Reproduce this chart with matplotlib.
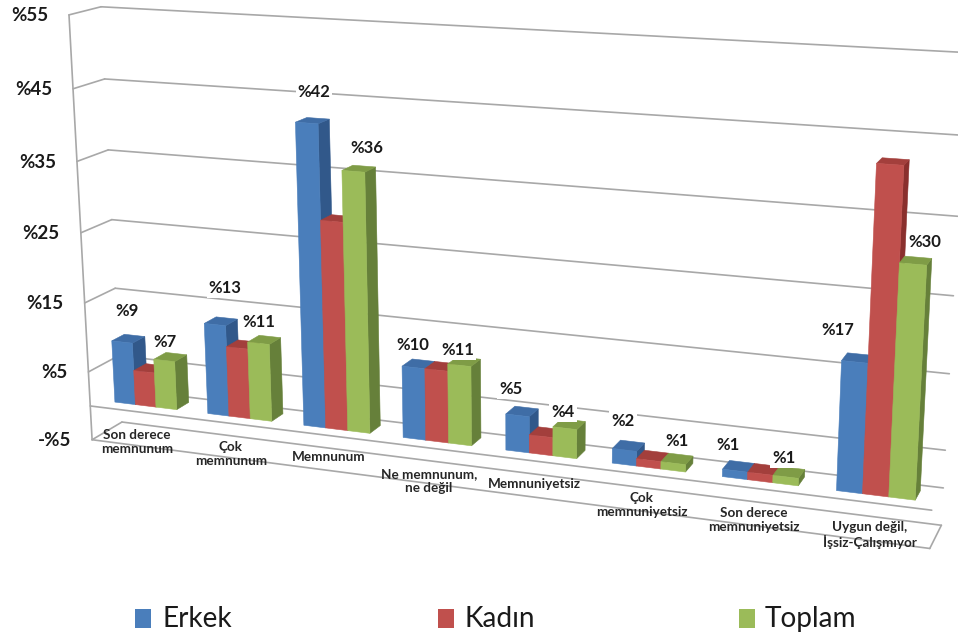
import numpy as np
import matplotlib
matplotlib.use("Agg")
import matplotlib.pyplot as plt
from matplotlib.patches import Polygon, Rectangle

# =============================================================================
# DATA
# =============================================================================
kategoriler = ["Son derece\nmemnunum", "Çok\nmemnunum", "Memnunum", "Ne memnunum,\nne değil",
               "Memnuniyetsiz", "Çok\nmemnuniyetsiz", "Son derece\nmemnuniyetsiz",
               "Uygun değil,\nİşsiz-Çalışmıyor"]
erkek = [9, 13, 42, 10, 5, 2, 1, 17]
kadin = [5, 10, 29, 10, 2.5, 1, 1, 42]   # no labels in the picture
toplam = [7, 11, 36, 11, 4, 1, 1, 30]
eksen_degerleri = [-5, 5, 15, 25, 35, 45, 55]
eksen_etiketleri = ["-%5", "%5", "%15", "%25", "%35", "%45", "%55"]

# label anchors, pixels of the 958x637 picture
erkek_etiket_xy = [(127, 311), (225, 288), (314, 92), (413, 345), (511, 389), (623, 421), (728, 445), (838, 330)]
toplam_etiket_xy = [(165, 342), (259, 322), (367, 148), (458, 350), (563, 412), (677, 441), (784, 458), (925, 242)]
kategori_xy = [(137, 442), (231, 454), (329, 457), (429, 481), (534, 484), (642, 505), (754, 520), (870, 535)]

# =============================================================================
# PERSPECTIVE (category position u, value v, depth d) -> picture pixels
# =============================================================================
referencia_3d = [(0, 55, 0), (0, -5, 0), (8, -5, 0), (0, 55, 1), (0, -5, 1), (8, -5, 1), (8, 55, 1),
                 (0.16, 0, 0.33), (1.16, 0, 0.33), (2.16, 0, 0.33), (3.16, 0, 0.33),
                 (4.16, 0, 0.33), (5.16, 0, 0.33), (6.16, 0, 0.33), (7.16, 0, 0.33)]
referencia_px = [(69, 15), (92, 439), (929, 548), (101, 7), (122, 422), (941, 525), (966, 52),
                 (115, 402), (208, 413), (303, 426), (403, 438),
                 (506, 450), (613, 463), (723, 476), (837, 492)]

filas, lado = [], []
for (u, v, d), (x, y) in zip(referencia_3d, referencia_px):
    filas.append([u, v, d, 1, 0, 0, 0, 0, -x * u, -x * v, -x * d])
    filas.append([0, 0, 0, 0, u, v, d, 1, -y * u, -y * v, -y * d])
    lado += [x, y]
coef = np.linalg.lstsq(np.array(filas, float), np.array(lado, float), rcond=None)[0]
P = np.append(coef, 1).reshape(3, 4)


def proy(u, v, d):
    x, y, w = P @ np.array([u, v, d, 1.0])
    return x / w, y / w


# =============================================================================
# FIGURE
# =============================================================================
plt.rcParams['font.family'] = ['Lato', 'DejaVu Sans']
fig = plt.figure(figsize=(9.58, 6.37), dpi=100)
ax = fig.add_axes([0, 0, 1, 1])
ax.set_xlim(0, 958)
ax.set_ylim(637, 0)
ax.axis('off')

gris = '#a8a8a8'


def linea(p1, p2, lw=1.2):
    ax.plot([p1[0], p2[0]], [p1[1], p2[1]], color=gris, lw=lw, solid_capstyle='round', zorder=1)


# back wall lines, left wall, floor
for v in [-5, 0, 5, 15, 25, 35, 45, 55]:
    linea(proy(0, v, 1), proy(8, v, 1))
    if v != 0:
        linea(proy(0, v, 0), proy(0, v, 1))
linea(proy(0, 55, 0), proy(0, -5, 0))
linea(proy(0, -5, 0), proy(8, -5, 0))
linea(proy(0, 0, 0), proy(8, 0, 0))
linea(proy(8, -5, 0), proy(8, -5, 1))

series = [
    (erkek, '#4a7ebb', '#3f6da6', '#31588a'),
    (kadin, '#c0504d', '#a33f3c', '#8a2f2d'),
    (toplam, '#9bbb59', '#7f9c46', '#66803a'),
]
inicio = 0.16
ancho = 0.223
d0, d1 = 0.33, 0.75

z = 5
for i in range(len(kategoriler)):
    for s, (valores, frente, tapa, costado) in enumerate(series):
        u0 = i + inicio + s * ancho
        u1 = u0 + ancho
        v = valores[i]
        caras = [
            (costado, [proy(u1, 0, d0), proy(u1, v, d0), proy(u1, v, d1), proy(u1, 0, d1)]),
            (tapa, [proy(u0, v, d0), proy(u1, v, d0), proy(u1, v, d1), proy(u0, v, d1)]),
            (frente, [proy(u0, 0, d0), proy(u1, 0, d0), proy(u1, v, d0), proy(u0, v, d0)]),
        ]
        for color, pts in caras:
            ax.add_patch(Polygon(pts, closed=True, facecolor=color, edgecolor=color, lw=0.4, zorder=z))
            z += 1

# data labels keep a white box that cuts the grid lines
for valores, posiciones in [(erkek, erkek_etiket_xy), (toplam, toplam_etiket_xy)]:
    for v, (x, y) in zip(valores, posiciones):
        ax.text(x, y, f"%{v}", ha='center', va='center', fontsize=12, fontweight='bold', color='#1a1a1a',
                bbox=dict(facecolor='white', edgecolor='none', pad=1.5), zorder=200)

for texto, (x, y) in zip(kategoriler, kategori_xy):
    ax.text(x, y, texto, ha='center', va='center', fontsize=9.7, fontweight='bold', color='#262626',
            linespacing=1.2, zorder=210)

for v, texto in zip(eksen_degerleri, eksen_etiketleri):
    x, y = proy(0, v, 0)
    ax.text(x - 21, y + 1, texto, ha='right', va='center', fontsize=13.5, fontweight='bold', color='#1a1a1a')

# legend
leyenda = [("Erkek", '#4a7ebb', 135, 163), ("Kadın", '#c0504d', 438, 465), ("Toplam", '#9bbb59', 739, 765)]
for nombre, color, xc, xt in leyenda:
    ax.add_patch(Rectangle((xc, 609), 16, 19, facecolor=color, edgecolor='none'))
    ax.text(xt, 619, nombre, ha='left', va='center', fontsize=20.2, color='#1a1a1a')

fig.savefig("out.png", dpi=100)
